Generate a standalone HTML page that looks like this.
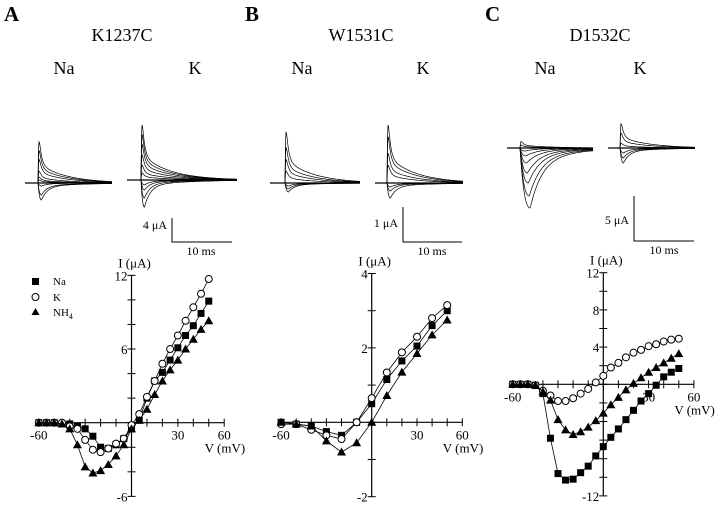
<!DOCTYPE html>
<html><head><meta charset="utf-8">
<style>
html,body{margin:0;padding:0;background:#fff;}
svg{display:block;font-family:"Liberation Serif",serif;}
</style></head>
<body>
<svg id="fig" width="720" height="505" viewBox="0 0 720 505" xmlns="http://www.w3.org/2000/svg">
<g font-weight="bold" font-size="21">
<text x="4" y="21">A</text>
<text x="245" y="21">B</text>
<text x="485" y="21">C</text>
</g>
<g font-size="18" text-anchor="middle">
<text x="122" y="41">K1237C</text>
<text x="361" y="41">W1531C</text>
<text x="600" y="41">D1532C</text>
</g>
<g font-size="18" text-anchor="middle">
<text x="64" y="74">Na</text>
<text x="195" y="74">K</text>
<text x="302" y="74">Na</text>
<text x="423" y="74">K</text>
<text x="545" y="74">Na</text>
<text x="640" y="74">K</text>
</g>
<g id="traces"></g>
<g stroke="#000" stroke-width="1" fill="none">
<polyline points="172,218 172,242 232,242"/>
<polyline points="403,207 403,242 462,242"/>
<polyline points="634,196 634,241 694,241"/>
</g>
<g font-size="12">
<text x="167" y="229" text-anchor="end">4 μA</text>
<text x="201" y="255" text-anchor="middle">10 ms</text>
<text x="398" y="227" text-anchor="end">1 μA</text>
<text x="432" y="255" text-anchor="middle">10 ms</text>
<text x="629" y="224" text-anchor="end">5 μA</text>
<text x="664" y="254" text-anchor="middle">10 ms</text>
</g>
<g id="charts"></g>
<g font-size="11">
<rect x="32" y="278" width="7" height="7" fill="#000"/>
<text x="53" y="285">Na</text>
<circle cx="35.5" cy="297" r="3.5" fill="#fff" stroke="#000"/>
<text x="53" y="301">K</text>
<polygon points="35.5,308 39.5,315 31.5,315" fill="#000"/>
<text x="53" y="316">NH<tspan font-size="8" dy="3">4</tspan></text>
</g>
</svg>
<script>
// ---- IV data (mV, μA) ----
const voltsA = [-60,-55,-50,-45,-40,-35,-30,-25,-20,-15,-10,-5,0,5,10,15,20,25,30,35,40,45,50];
const naA   = [0,0,0,-0.1,-0.1,-0.3,-0.5,-1.1,-2.0,-2.1,-1.8,-1.3,-0.5,0.2,2.0,3.4,4.1,5.1,6.1,7.1,7.9,8.9,9.9];
const kA    = [0,0,0,0,-0.3,-0.5,-1.4,-2.2,-2.4,-2.1,-1.7,-1.3,-0.2,0.7,2.1,3.4,4.8,6.0,7.1,8.3,9.4,10.5,11.7];
const nh4A  = [0,0,0,-0.1,-0.5,-1.8,-3.6,-4.1,-3.9,-3.4,-2.7,-1.8,-0.5,0.2,1.1,2.3,3.4,4.3,5.1,6.0,6.8,7.6,8.3];
const voltsB = [-60,-50,-40,-30,-20,-10,0,10,20,30,40,50];
const naB   = [0,-0.05,-0.1,-0.25,-0.35,0,0.5,1.15,1.65,2.05,2.6,3.0];
const kB    = [-0.05,-0.05,-0.2,-0.35,-0.45,0,0.65,1.34,1.88,2.3,2.8,3.15];
const nh4B  = [0,-0.05,-0.1,-0.5,-0.8,-0.55,0,0.72,1.35,1.85,2.35,2.75];
const voltsC = [-60,-55,-50,-45,-40,-35,-30,-25,-20,-15,-10,-5,0,5,10,15,20,25,30,35,40,45,50];
const naC   = [0,0,0,-0.1,-1.0,-5.8,-9.6,-10.3,-10.2,-9.5,-8.8,-7.7,-6.7,-5.7,-4.8,-3.8,-2.8,-1.8,-1.0,-0.1,0.8,1.3,1.7];
const kC    = [0,0,0,-0.1,-0.7,-1.2,-1.8,-1.8,-1.5,-1.0,-0.5,0.2,0.9,1.8,2.3,2.9,3.4,3.7,4.1,4.3,4.6,4.8,4.9];
const nh4C  = [0,0,0,-0.1,-0.8,-1.7,-3.8,-4.9,-5.4,-5.1,-4.6,-3.9,-3.1,-2.2,-1.4,-0.6,0.1,0.7,1.3,1.8,2.3,2.8,3.3];
const yTicksA = [12,10,8,6,4,2,0,-2,-4,-6], yLabelsA = ["12","6","-6"];
const yTicksB = [4,3,2,1,0,-1,-2], yLabelsB = ["4","2","-2"];
const yTicksC = [12,10,8,6,4,2,0,-2,-4,-6,-8,-10,-12], yLabelsC = ["12","8","4","-12"];
const xTicks = [-60,-50,-40,-30,-20,-10,0,10,20,30,40,50,60];
const xLabels = ["-60","30","60"];
// ---- trace amplitudes (display units) ----
const trA_na = [70,55,40,20,10,5,-3,-12,-17];
const trA_k  = [93,77,60,42,25,12,-5,-10,-18,-27];
const trB_na = [86,60,40,20,-3,-6,-9];
const trB_k  = [98,78,50,30,-4,-8,-15];
const trC_na = [11,5,-3,-8,-15,-25,-35,-48,-60];
const trC_k  = [41,25,8,-5,-10,-15];

const NS="http://www.w3.org/2000/svg";
function mk(tag,attrs,parent){const e=document.createElementNS(NS,tag);for(const k in attrs)e.setAttribute(k,attrs[k]);parent.appendChild(e);return e;}

const tg=document.getElementById('traces');
function drawTraces(amps,x0,x1,base,onset,slowInward,name){
  const g=mk('g',{fill:'none',stroke:'#000','stroke-width':'0.7'},tg);
  
  
  amps.forEach((a,i)=>{
    let d='M'+x0+','+base;
    const tp = (a<0 && slowInward) ? 3+i*0.9 : 3.5;
    for(let x=onset;x<=x1;x+=0.5){
      const t=x-onset;
      let f;
      if(a>=0){f=(1-Math.exp(-t/0.6))*(0.72*Math.exp(-t/2.2)+0.28*Math.exp(-t/28));}
      else{f=(t/tp)*Math.exp(1-t/tp);if(t>tp)f=0.8*Math.exp(-(t-tp)/(slowInward?12:6))+0.2*Math.exp(-(t-tp)/40);}
      d+=' L'+x+','+(base-a*f).toFixed(1);
    }
    const p=mk('path',{d:d},g);
    
    
  });
  const bl=mk('line',{x1:x0,y1:base,x2:x1,y2:base,'stroke-width':'1.3'},g);
  
  
}
drawTraces(trA_na,25,112,183,38,false,'traces-a-na');
drawTraces(trA_k,127,237,180,141,false,'traces-a-k');
drawTraces(trB_na,270,360,183,285,false,'traces-b-na');
drawTraces(trB_k,375,463,183,387,false,'traces-b-k');
drawTraces(trC_na,507,593,148,520,true,'traces-c-na');
drawTraces(trC_k,608,695,148,620,false,'traces-c-k');

const cg=document.getElementById('charts');
function chart(cfg){
  const g=mk('g',{},cg);
  
  
  const sx=v=>cfg.x0+v*cfg.kx, sy=v=>cfg.y0-v*cfg.ky;
  const ymax=Math.max(...cfg.yt), ymin=Math.min(...cfg.yt);
  const ax=mk('line',{x1:sx(-60),y1:cfg.y0,x2:sx(60),y2:cfg.y0,stroke:'#000','stroke-width':'1.2'},g);
  
  
  const ay=mk('line',{x1:cfg.x0,y1:sy(ymax),x2:cfg.x0,y2:sy(ymin),stroke:'#000','stroke-width':'1.2'},g);
  
  
  xTicks.forEach(v=>{const t=mk('line',{x1:sx(v),y1:cfg.y0-4,x2:sx(v),y2:cfg.y0+4,stroke:'#000'},g);
    
    });
  cfg.yt.forEach(v=>{const t=mk('line',{x1:cfg.x0-4,y1:sy(v),x2:cfg.x0+4,y2:sy(v),stroke:'#000'},g);
    
    });
  xLabels.forEach(s=>{const v=+s;const t=mk('text',{x:sx(v),y:cfg.y0+17,'font-size':'13','text-anchor':'middle'},g);t.textContent=s;
    
    });
  cfg.yl.forEach(s=>{const v=+s;const t=mk('text',{x:cfg.x0-4,y:sy(v)+5,'font-size':'13','text-anchor':'end'},g);t.textContent=s;
    
    });
  const yt=mk('text',{x:cfg.x0+3,y:sy(ymax)-8,'font-size':'13','text-anchor':'middle'},g);yt.textContent='I (μA)';
  
  
  const xt=mk('text',{x:sx(60)+21,y:cfg.y0+30,'font-size':'13','text-anchor':'end'},g);xt.textContent='V (mV)';
  
  
  const series=[[cfg.na,'sq','series-na'],[cfg.k,'ci','series-k'],[cfg.nh,'tr','series-nh4']];
  series.forEach(([vals,shape,nm])=>{
    const sg=mk('g',{},g);
    
    
    const pts=vals.map((v,i)=>sx(cfg.v[i]).toFixed(1)+','+sy(v).toFixed(1)).join(' ');
    const pl=mk('polyline',{points:pts,fill:'none',stroke:'#000','stroke-width':'0.8'},sg);
    
    
    vals.forEach((v,i)=>{
      const x=sx(cfg.v[i]),y=sy(v);let m;
      if(shape==='sq')m=mk('rect',{x:x-3.5,y:y-3.5,width:7,height:7,fill:'#000'},sg);
      else if(shape==='ci')m=mk('circle',{cx:x,cy:y,r:3.5,fill:'#fff',stroke:'#000','stroke-width':'1'},sg);
      else m=mk('polygon',{points:`${x},${y-4.5} ${x+4.5},${y+3.5} ${x-4.5},${y+3.5}`,fill:'#000'},sg);
      
      
    });
  });
}
chart({name:'iv-chart-a',x0:131.5,kx:1.545,y0:422.7,ky:12.28,yt:yTicksA,yl:yLabelsA,v:voltsA,na:naA,k:kA,nh:nh4A});
chart({name:'iv-chart-b',x0:371.7,kx:1.51,y0:422.3,ky:37.2,yt:yTicksB,yl:yLabelsB,v:voltsB,na:naB,k:kB,nh:nh4B});
chart({name:'iv-chart-c',x0:603.3,kx:1.51,y0:384.3,ky:9.3,yt:yTicksC,yl:yLabelsC,v:voltsC,na:naC,k:kC,nh:nh4C});
</script>
</body></html>
